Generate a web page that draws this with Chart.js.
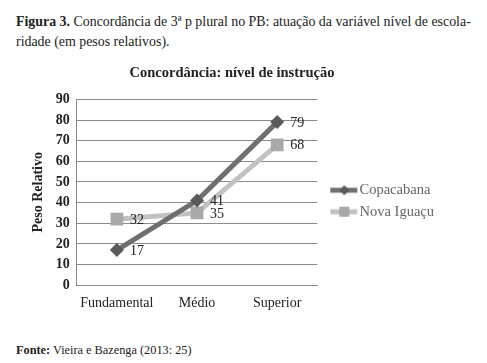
<!DOCTYPE html>
<html>
<head>
<meta charset="utf-8">
<script src="https://cdn.jsdelivr.net/npm/chart.js"></script>
<style>
  body { margin: 0; background: #fff; width: 487px; height: 363px; overflow: hidden; position: relative; font-family: 'Liberation Serif', 'DejaVu Serif', serif; color: #222; }
  .caption { position: absolute; left: 16px; top: 12px; font-size: 13.9px; line-height: 20px; white-space: nowrap; }
  .fonte { position: absolute; left: 16px; top: 343px; font-size: 12.3px; white-space: nowrap; }
  #wrap { position: absolute; left: 20px; top: 58px; width: 424px; height: 265px; }
</style>
</head>
<body>
<div class="caption"><b>Figura 3.</b> Concordância de 3ª p plural no PB: atuação da variável nível de escola-<br>ridade (em pesos relativos).</div>
<div id="wrap"><canvas id="myChart"></canvas></div>
<div class="fonte"><b>Fonte:</b> Vieira e Bazenga (2013: 25)</div>

<script>
// data
const levels = ['Fundamental', 'Médio', 'Superior']
const copacabana = [17, 41, 79]
const novaIguacu = [32, 35, 68]
const yTicks = [0, 10, 20, 30, 40, 50, 60, 70, 80, 90]

const serif = "'Liberation Serif', 'DejaVu Serif', serif"

// little line + marker pictures for the legend
function legendIcon(lineColor, markColor, style){
  let c = document.createElement('canvas')
  c.width = 40
  c.height = 14
  let g = c.getContext('2d')
  g.strokeStyle = lineColor
  g.lineWidth = 5
  g.beginPath()
  g.moveTo(12, 7)
  g.lineTo(39, 7)
  g.stroke()
  g.fillStyle = markColor
  if (style == 'diamond'){
    g.beginPath()
    g.moveTo(26, 2); g.lineTo(31, 7); g.lineTo(26, 12); g.lineTo(21, 7)
    g.closePath()
    g.fill()
  } else {
    g.fillRect(21, 2, 10, 10)
  }
  return c
}

const icons = [
  legendIcon('#6f6f6f', '#5a5a5a', 'diamond'),
  legendIcon('#c2c2c2', '#a9a9a9', 'square')
]

// numbers next to each point
const valueLabels = {
  id: 'valueLabels',
  afterDatasetsDraw(chart){
    let ctx = chart.ctx
    ctx.save()
    ctx.font = '14px ' + serif
    ctx.fillStyle = '#222'
    ctx.textBaseline = 'middle'
    chart.data.datasets.forEach((ds, i) => {
      chart.getDatasetMeta(i).data.forEach((pt, j) => {
        ctx.fillText(ds.data[j], pt.x + 13, pt.y + 1)
      })
    })
    ctx.restore()
  }
}

// the legend pushes the title to the right, pull it back a little
const titleShift = {
  id: 'titleShift',
  afterLayout(chart){
    chart.titleBlock.left -= 10
  }
}

new Chart('myChart', {
  type: 'line',
  data: {
    labels: levels,
    datasets: [{
      label: 'Copacabana',
      data: copacabana,
      borderColor: '#6f6f6f',
      backgroundColor: '#5a5a5a',
      borderWidth: 5,
      pointStyle: 'rectRot',
      pointRadius: 7,
      pointBorderWidth: 0
    }, {
      label: 'Nova Iguaçu',
      data: novaIguacu,
      borderColor: '#c2c2c2',
      backgroundColor: '#a9a9a9',
      borderWidth: 5,
      pointStyle: 'rect',
      pointRadius: 9,
      pointBorderWidth: 0
    }]
  },
  options: {
    responsive: true,
    maintainAspectRatio: false,
    animation: false,
    layout: { padding: { left: 10, right: 0, top: 0, bottom: 1 } },
    plugins: {
      title: {
        display: true,
        text: 'Concordância: nível de instrução',
        color: '#222',
        font: { family: serif, size: 14.5, weight: 'bold' },
        padding: { top: 7, bottom: 17 }
      },
      legend: {
        position: 'right',
        maxWidth: 200,
        // empty title only pushes the items a bit lower
        title: { display: true, text: '', font: { size: 10 }, padding: { top: 5, bottom: 5 } },
        labels: {
          usePointStyle: true,
          pointStyleWidth: 28,
          padding: 7,
          color: '#222',
          font: { family: serif, size: 14.5 },
          generateLabels(chart){
            return chart.data.datasets.map((ds, i) => ({
              text: ds.label,
              pointStyle: icons[i],
              fillStyle: ds.backgroundColor,
              strokeStyle: ds.borderColor,
              lineWidth: 0,
              datasetIndex: i
            }))
          }
        }
      },
      tooltip: { enabled: false }
    },
    scales: {
      x: {
        offset: true,
        grid: { display: false, drawTicks: false },
        border: { color: '#8a8a8a' },
        ticks: { color: '#222', font: { family: serif, size: 14 }, padding: 10, maxRotation: 0, autoSkip: false }
      },
      y: {
        min: 0,
        max: 90,
        afterBuildTicks(axis){ axis.ticks = yTicks.map(v => ({ value: v })) },
        grid: { color: '#8a8a8a', drawTicks: false },
        border: { color: '#8a8a8a' },
        ticks: { color: '#222', font: { family: serif, size: 14, weight: 'bold' }, padding: 7, autoSkip: false },
        title: {
          display: true,
          text: 'Peso Relativo',
          color: '#222',
          font: { family: serif, size: 14, weight: 'bold' },
          padding: { top: 0, bottom: 2 }
        }
      }
    }
  },
  plugins: [valueLabels, titleShift]
})
</script>
</body>
</html>
